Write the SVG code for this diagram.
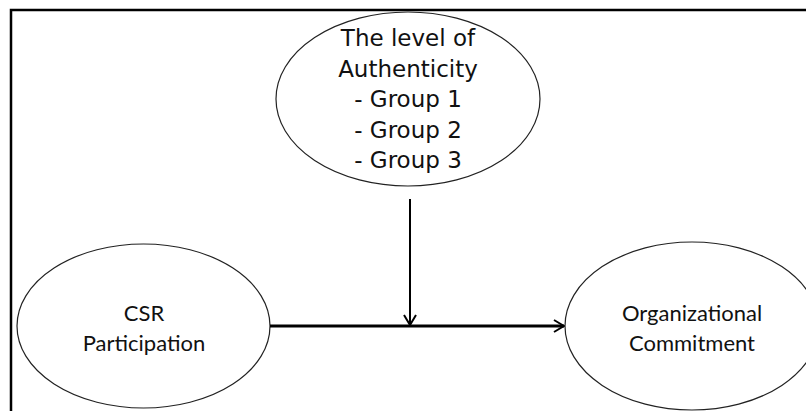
<svg xmlns="http://www.w3.org/2000/svg" width="806" height="411" viewBox="0 0 806 411">
<defs>
<style>
.node ellipse{fill:#fff;stroke:#222;stroke-width:1.2}
.top text{font-family:"DejaVu Sans",sans-serif;font-size:23px;fill:#111;text-anchor:middle}
.low text{font-family:Lato,"Liberation Sans",sans-serif;font-size:22px;fill:#111;text-anchor:middle}
.conn{stroke:#000;fill:none}
</style>
<marker id="chev" viewBox="0 0 12 14" refX="11" refY="7" markerWidth="12" markerHeight="14" markerUnits="userSpaceOnUse" orient="auto">
<path d="M1,1 L11,7 L1,13" fill="none" stroke="#000" stroke-width="2"/>
</marker>
</defs>
<rect width="806" height="411" fill="#fff"/>
<path d="M11,411 V10 H806" fill="none" stroke="#000" stroke-width="2.5"/>
<g id="authenticity" class="node top">
<ellipse cx="408" cy="99" rx="132" ry="87"/>
<text x="408" y="46">The level of</text>
<text x="408" y="76.5">Authenticity</text>
<text x="408" y="107">- Group 1</text>
<text x="408" y="137.5">- Group 2</text>
<text x="408" y="168">- Group 3</text>
</g>
<g id="csr" class="node low">
<ellipse cx="143.5" cy="326" rx="126.5" ry="82"/>
<text x="144" y="321">CSR</text>
<text x="144" y="351">Participation</text>
</g>
<g id="commitment" class="node low">
<ellipse cx="692" cy="326" rx="127" ry="84"/>
<text x="692" y="321">Organizational</text>
<text x="692" y="351">Commitment</text>
</g>
<g id="connectors">
<line class="conn" x1="270" y1="326" x2="564" y2="326" stroke-width="3" marker-end="url(#chev)"/>
<line class="conn" x1="410" y1="199" x2="410" y2="325" stroke-width="2" marker-end="url(#chev)"/>
</g>
</svg>
